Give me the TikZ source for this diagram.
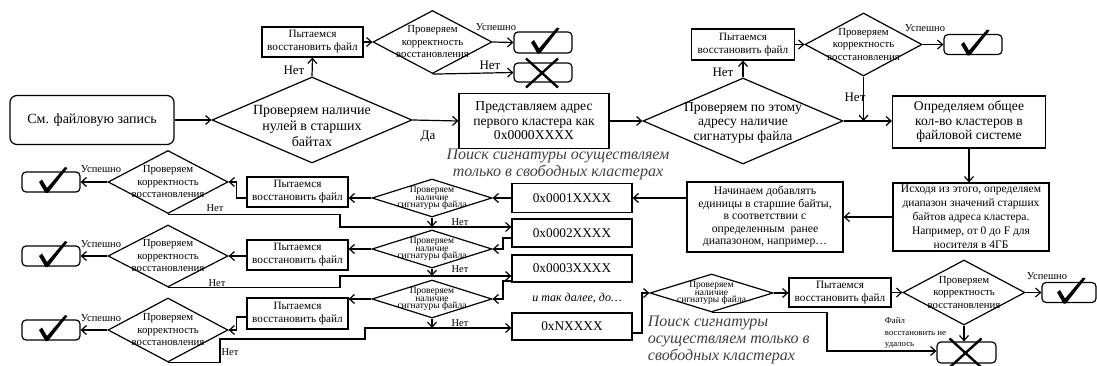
\documentclass[tikz,border=0pt]{standalone}
\usepackage{fontspec}
\setmainfont{Liberation Serif}
\usetikzlibrary{shapes.geometric,arrows.meta}

\newcommand{\fbig}{\fontsize{14}{16}\selectfont}
\newcommand{\fdia}{\fontsize{14}{16}\selectfont}
\newcommand{\fmid}{\fontsize{13.6}{14.5}\selectfont}
\newcommand{\fsm}{\fontsize{11.2}{13}\selectfont}
\newcommand{\fcor}{\fontsize{10.8}{12.5}\selectfont}
\newcommand{\fsig}{\fontsize{9.5}{7.5}\selectfont}
\newcommand{\faddr}{\fontsize{13.3}{15}\selectfont}
\newcommand{\fsrc}{\fontsize{11.5}{14}\selectfont}
\newcommand{\fplus}{\fontsize{11.7}{12.5}\selectfont}
\newcommand{\fno}{\fontsize{13}{15}\selectfont}
\newcommand{\fok}{\fontsize{10.5}{12}\selectfont}
\newcommand{\ftiny}{\fontsize{8.8}{11.5}\selectfont}
\newcommand{\fnote}{\fontsize{16}{17}\selectfont\itshape}
\newcommand{\fetc}{\fontsize{12}{13}\selectfont\itshape}
% check mark and cross drawn at a node
\newcommand{\tickmark}[1]{\fill[shift={(#1)}] (-12,0) -- (-9,-2.5) -- (-4,6) -- (14,-15) -- (16.5,-14) -- (-3,11) -- (-5.5,11) -- cycle;}
\newcommand{\crossmark}[1]{\draw[line width=2.4pt,shift={(#1)}] (-17,-14) -- (15,15) (15,-14) -- (-17,15);}

\begin{document}
\begin{tikzpicture}[x=1pt,y=-1pt,line width=1.2pt,
    box/.style={draw,align=center,inner sep=0pt},
    rbox/.style={draw,rounded corners=4pt},
    dia/.style={diamond,draw,inner sep=0pt},
    wh/.style 2 args={minimum width=#1pt,minimum height=#2pt},
    arr/.style={-{Straight Barb[length=5pt,width=9pt]}}]
  \useasboundingbox (0,0) rectangle (1097,366);
  % Nodes: top row
  \node[rbox,rounded corners=7pt,wh={164}{49},font=\fbig] (start) at (92,120) {См. файловую запись};
  \node[dia,wh={200}{86},label={[font=\fdia,align=center,yshift=-6pt]center:Проверяем наличие\\нулей в старших\\байтах}] (d0) at (312,120) {};
  \node[box,wh={101}{30},font=\fsm] (r0) at (312.5,42) {Пытаемся\\восстановить файл};
  \node[dia,wh={119}{63},label={[font=\fcor,align=center]center:Проверяем\\корректность\\восстановления}] (c0) at (432.5,42) {};
  \node[rbox,wh={58}{21}] (ok0) at (543,42.5) {};
  \node[rbox,wh={58}{19}] (fail0) at (543,72.5) {};
  \node[box,wh={150}{55},font=\fmid] (p0) at (534,121) {Представляем адрес\\первого кластера как\\0x0000XXXX};
  \node[dia,wh={200}{86},label={[font=\fmid,align=center,yshift=-2pt]center:Проверяем по этому\\адресу наличие\\сигнатуры файла}] (d1) at (743,121) {};
  \node[box,wh={103}{31},font=\fsm] (r1) at (743,44.5) {Пытаемся\\восстановить файл};
  \node[dia,wh={117}{63},label={[font=\fcor,align=center]center:Проверяем\\корректность\\восстановления}] (c1) at (863.5,44.5) {};
  \node[rbox,wh={58}{20}] (ok1) at (973,44.5) {};
  \node[box,wh={153}{52},font=\fmid] (g0) at (969,122) {Определяем общее\\кол-во кластеров в\\файловой системе};
  \node[box,wh={156}{68},font=\fsrc] (s0) at (971,217) {Исходя из этого, определяем\\диапазон значений старших\\байтов адреса кластера.\\Например, от 0 до F для\\носителя в 4ГБ};
  \node[box,wh={156}{70},font=\fplus] (n0) at (765,217) {Начинаем добавлять\\единицы в старшие байты,\\в соответствии с\\определенным\ \ ранее\\диапазоном, например…};
  % Nodes: cluster addresses
  \node[box,wh={120}{29},font=\faddr] (a1) at (572,198) {0x0001XXXX};
  \node[box,wh={120}{28},font=\faddr] (a2) at (572,233) {0x0002XXXX};
  \node[box,wh={120}{27},font=\faddr] (a3) at (572,268.5) {0x0003XXXX};
  \node[box,wh={120}{27},font=\faddr] (aN) at (572,326.5) {0xNXXXX};
  % Nodes: rows of checks
  \node[dia,wh={120}{38},label={[font=\fsig,align=center]center:Проверяем\\наличие\\сигнатуры файла}] (s1) at (432,198) {};
  \node[dia,wh={120}{38},label={[font=\fsig,align=center]center:Проверяем\\наличие\\сигнатуры файла}] (s2) at (432,249) {};
  \node[dia,wh={120}{38},label={[font=\fsig,align=center]center:Проверяем\\наличие\\сигнатуры файла}] (s3) at (432,299) {};
  \node[box,wh={101}{30},font=\fsm] (t1) at (297.5,192) {Пытаемся\\восстановить файл};
  \node[box,wh={101}{30},font=\fsm] (t2) at (297.5,255) {Пытаемся\\восстановить файл};
  \node[box,wh={101}{31},font=\fsm] (t3) at (297.5,313.5) {Пытаемся\\восстановить файл};
  \node[dia,wh={120}{63},label={[font=\fcor,align=center]center:Проверяем\\корректность\\восстановления}] (k1) at (168,182) {};
  \node[dia,wh={120}{62},label={[font=\fcor,align=center]center:Проверяем\\корректность\\восстановления}] (k2) at (168,256) {};
  \node[dia,wh={120}{64},label={[font=\fcor,align=center]center:Проверяем\\корректность\\восстановления}] (k3) at (168,330) {};
  \node[rbox,wh={58}{20}] (ok2) at (51,182) {};
  \node[rbox,wh={58}{20}] (ok3) at (51,256) {};
  \node[rbox,wh={58}{20}] (ok4) at (51,330) {};
  % Nodes: last cluster
  \node[dia,wh={123}{38},label={[font=\fsig,align=center]center:Проверяем\\наличие\\сигнатуры файла}] (s4) at (711.5,293) {};
  \node[box,wh={102}{29},font=\fsm] (r4) at (840,292.5) {Пытаемся\\восстановить файл};
  \node[dia,wh={122}{65},label={[font=\fcor,align=center]center:Проверяем\\корректность\\восстановления}] (k4) at (964,292.5) {};
  \node[rbox,wh={54}{20}] (ok5) at (1069,292.5) {};
  \node[rbox,wh={59}{21}] (fail5) at (966.5,352.5) {};
  % Nodes: texts
  \node[font=\fno] (no0) at (294,70) {Нет};
  \node[font=\fno] (no1) at (490,65) {Нет};
  \node[font=\fno] (yes0) at (428,137) {Да};
  \node[font=\fno] (no2) at (723,72) {Нет};
  \node[font=\fno] (no3) at (855,97) {Нет};
  \node[font=\fok] (ok0t) at (496,27) {Успешно};
  \node[font=\fok] (ok1t) at (925,28) {Успешно};
  \node[font=\fok] (ok2t) at (101,169) {Успешно};
  \node[font=\fok] (ok3t) at (101,244) {Успешно};
  \node[font=\fok] (ok4t) at (101,318) {Успешно};
  \node[font=\fok] (ok5t) at (1047,276) {Успешно};
  \node[font=\fok] (no4) at (215,208) {Нет};
  \node[font=\fok] (no5) at (217,283) {Нет};
  \node[font=\fok] (no6) at (230,352) {Нет};
  \node[font=\fok] (no7) at (460,222) {Нет};
  \node[font=\fok] (no8) at (460,269) {Нет};
  \node[font=\fok] (no9) at (460,323) {Нет};
  \node[font=\ftiny,align=left,anchor=west] (fail5t) at (881,333) {Файл\\восстановить не\\удалось};
  \node[font=\fetc] (etc) at (577,298) {и так далее, до…};
  \node[font=\fnote,text=black!75,align=center] (note0) at (558,164) {Поиск сигнатуры осуществляем\\только в свободных кластерах};
  \node[font=\fnote,text=black!75,align=left,anchor=north west] (note1) at (644,312) {Поиск сигнатуры\\осуществляем только в\\свободных кластерах};
  % Marks
  \tickmark{ok0} \tickmark{ok1} \tickmark{ok2} \tickmark{ok3} \tickmark{ok4} \tickmark{ok5}
  \crossmark{fail0} \crossmark{fail5}
  % Bend points
  \coordinate (j1) at (340,227);
  \coordinate (j2) at (340,276);
  \coordinate (j3a) at (220,339);
  \coordinate (j3) at (365,328);
  \coordinate (e2) at (503,238);
  \coordinate (e3) at (503,281);
  \coordinate (e4) at (642,333);
  \coordinate (j4) at (827,351);
  % Arrows: top row
  \draw[arr] (start) -- (d0);
  \draw[arr] (d0.north) -- (r0.south);
  \draw[arr] (r0.east) -- (c0.west);
  \draw[arr] (c0.east) -- (ok0.west);
  \draw[arr] (c0.south) -- (fail0.west);
  \draw[arr] (d0.east) -- (p0.west);
  \draw[arr] (p0.east) -- (d1.west);
  \draw[arr] (d1.north) -- (r1.south);
  \draw[arr] (r1.east) -- (c1.west);
  \draw[arr] (c1.east) -- (ok1.west);
  \draw[arr] (d1.east) -- (d1.east -| g0.west);
  \draw[arr] (c1.south) -- (c1.south |- d1.east);
  \draw[arr] (g0.south) -- (g0.south |- s0.north);
  \draw[arr] (s0.west) -- (n0.east);
  \draw[arr] (n0.west |- a1.east) -- (a1.east);
  % Arrows: rows
  \draw[arr] (a1.west) -- (s1.east);
  \draw[arr] (s1.west) -- (s1.west -| t1.east);
  \draw[arr] (t1.west |- s1.west) -- ++(-10,0) |- (k1.east);
  \draw[arr] (k1.west) -- (ok2.east);
  \draw[arr] (k1.south) -| (j1) -- (j1 -| a2.west);
  \draw[arr] (s1.south) -- (s1.south |- j1);
  \draw[arr] (a2.west |- e2) -- (e2) |- (s2.east);
  \draw[arr] (s2.west) -- (s2.west -| t2.east);
  \draw[arr] (t2.west |- k2.east) -- (k2.east);
  \draw[arr] (k2.west) -- (ok3.east);
  \draw[arr] (k2.south) -| (j2) -- (j2 -| a3.west);
  \draw[arr] (s2.south) -- (s2.south |- j2);
  \draw[arr] (a3.west |- e3) -- (e3) |- (s3.east);
  \draw[arr] (s3.west) -- (s3.west -| t3.east);
  \draw[arr] ([yshift=-3.5pt]t3.west) -- ++(-10,0) |- (k3.east);
  \draw[arr] (k3.west) -- (ok4.east);
  \draw[arr] (k3.south) -| (j3a) -| (j3) -- (j3 -| aN.west);
  \draw[arr] (s3.south) -- (s3.south |- j3);
  % Arrows: last cluster
  \draw[arr] (aN.east |- e4) -- (e4) |- (s4.west);
  \draw[arr] (s4.east) -- (s4.east -| r4.west);
  \draw[arr] (r4.east) -- (k4.west);
  \draw[arr] (k4.east) -- (ok5.west);
  \draw[arr] (k4.south) -- (k4.south |- fail5.north);
  \draw[arr] (s4.south) -| (j4) -- (j4 -| fail5.west);
\end{tikzpicture}
\end{document}
